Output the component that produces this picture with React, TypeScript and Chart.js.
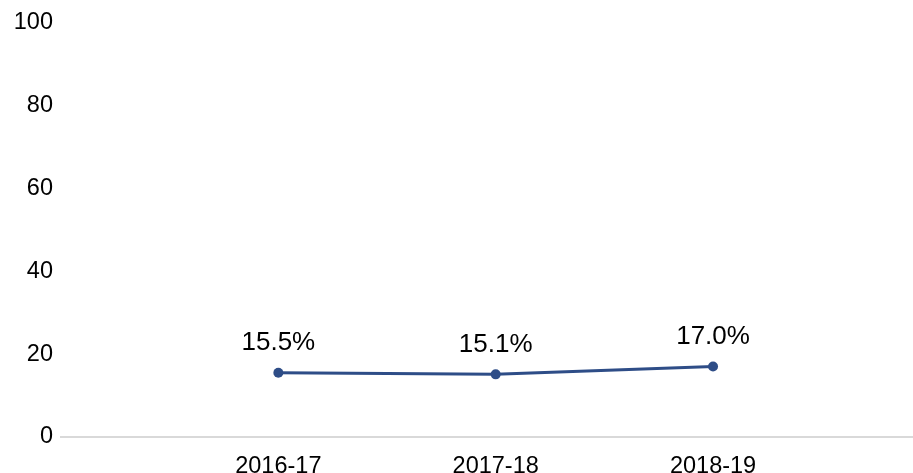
import React, { useEffect, useRef } from "react";
import { Chart, registerables } from "chart.js";

Chart.register(...registerables);

const categories = ["2016-17", "2017-18", "2018-19"];
const values = [15.5, 15.1, 17.0];
const valueLabels = ["15.5%", "15.1%", "17.0%"];
const yTicks = [0, 20, 40, 60, 80, 100];

const FONT = "'Liberation Sans', Arial, sans-serif";
const LINE_COLOR = "#2E4D87";

const dataLabelPlugin = {
  id: "dataLabels",
  afterDatasetsDraw(chart: any) {
    const ctx = chart.ctx;
    const meta = chart.getDatasetMeta(0);
    ctx.save();
    ctx.font = `26px ${FONT}`;
    ctx.fillStyle = "#000";
    ctx.textAlign = "center";
    ctx.textBaseline = "middle";
    meta.data.forEach((pt: any, i: number) => {
      ctx.fillText(valueLabels[i], pt.x, pt.y - 30);
    });
    ctx.restore();
  },
};

export default function App() {
  const ref = useRef<HTMLCanvasElement | null>(null);
  useEffect(() => {
    if (!ref.current) return;
    const chart = new Chart(ref.current, {
      type: "line",
      data: {
        datasets: [
          {
            data: values.map((v, i) => ({ x: i, y: v })),
            borderColor: LINE_COLOR,
            backgroundColor: LINE_COLOR,
            borderWidth: 3,
            pointRadius: 5,
            pointBackgroundColor: LINE_COLOR,
            pointBorderWidth: 0,
            tension: 0,
          },
        ],
      },
      options: {
        animation: false,
        responsive: true,
        maintainAspectRatio: false,
        layout: { autoPadding: false, padding: { top: 22, right: 0, left: 0, bottom: 0 } },
        plugins: {
          legend: { display: false },
          tooltip: { enabled: false },
        },
        scales: {
          x: {
            type: "linear",
            min: -1,
            max: 2.92,
            afterBuildTicks: (scale: any) => {
              scale.ticks = categories.map((_, i) => ({ value: i }));
            },
            afterFit: (scale: any) => {
              scale.height = 36;
              scale.paddingLeft = 0;
              scale.paddingRight = 0;
            },
            grid: { display: false, drawTicks: false },
            border: { display: true, color: "#D9D9D9", width: 2 },
            ticks: {
              autoSkip: false,
              maxRotation: 0,
              padding: 15,
              color: "#000",
              font: { family: FONT, size: 23.5 },
              callback: (v: any) => categories[v as number] ?? "",
            },
          },
          y: {
            min: 0,
            max: 100,
            afterBuildTicks: (scale: any) => {
              scale.ticks = yTicks.map((v) => ({ value: v }));
            },
            afterFit: (scale: any) => {
              scale.width = 61;
            },
            grid: { display: false, drawTicks: false },
            border: { display: false },
            ticks: {
              padding: 8,
              color: "#000",
              font: { family: FONT, size: 23.5 },
            },
          },
        },
      },
      plugins: [dataLabelPlugin],
    });
    return () => chart.destroy();
  }, []);
  return (
    <div style={{ position: "fixed", left: 0, top: 0, width: 913, height: 473, background: "#fff" }}>
      <canvas ref={ref} />
    </div>
  );
}
